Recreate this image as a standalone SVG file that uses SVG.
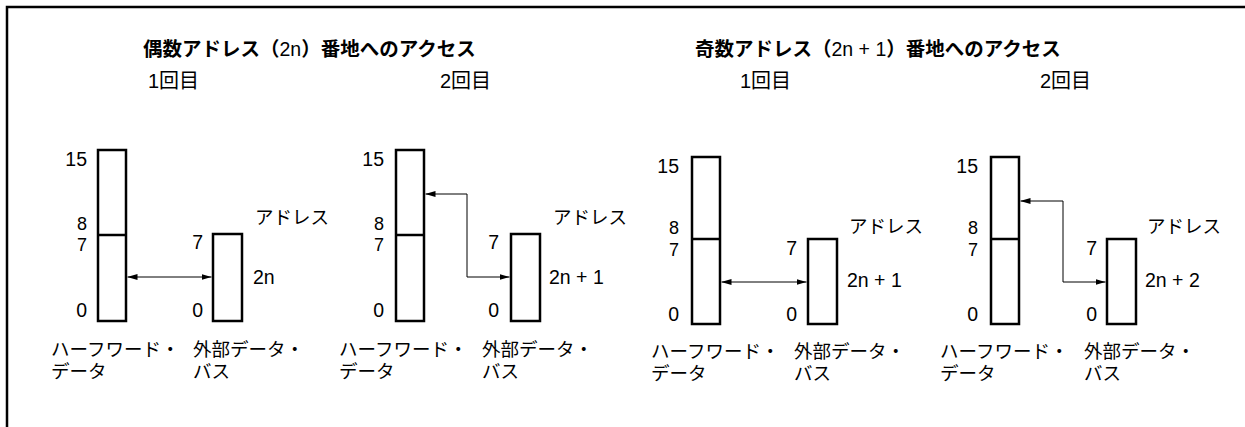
<svg xmlns="http://www.w3.org/2000/svg" width="1245" height="427" viewBox="0 0 1245 427">
<defs>
<style>
text{font-family:"Liberation Sans","Noto Sans CJK JP",sans-serif;fill:#000}
.t{font-size:19.5px;font-weight:bold}
.h{font-size:20px}
.n{font-size:19.5px}
.s{font-size:18px}
.j{font-size:18.5px}
.e{text-anchor:end}
.box{fill:#fff;stroke:#000;stroke-width:2.5}
.div{stroke:#000;stroke-width:2.5}
.c{fill:none;stroke:#000;stroke-width:1}
</style>
<marker id="ah" viewBox="0 0 10 6" refX="10" refY="3" markerWidth="10" markerHeight="6" markerUnits="userSpaceOnUse" orient="auto-start-reverse">
<path d="M0,0 L10,3 L0,6 Z" fill="#000"/>
</marker>
</defs>
<rect width="1245" height="427" fill="#fff"/>
<path d="M7,427 V7 H1245" fill="none" stroke="#000" stroke-width="2.5"/>

<g id="titles">
<text class="t" x="143" y="56">偶数アドレス（<tspan font-weight="normal">2n</tspan>）番地へのアクセス</text>
<text class="t" x="695" y="56">奇数アドレス（<tspan font-weight="normal">2n + 1</tspan>）番地へのアクセス</text>
<text class="h" x="148" y="88">1回目</text>
<text class="h" x="440" y="88">2回目</text>
<text class="h" x="740" y="88">1回目</text>
<text class="h" x="1040" y="88">2回目</text>
</g>

<g id="panel1">
<rect class="box" x="98" y="150" width="28" height="171"/>
<line class="div" x1="98" y1="235" x2="126" y2="235"/>
<rect class="box" x="213" y="234" width="29" height="87"/>
<text class="n e" x="87" y="166">15</text>
<text class="s e" x="87" y="230">8</text>
<text class="s e" x="87" y="251">7</text>
<text class="n e" x="87" y="317">0</text>
<text class="n e" x="203" y="249">7</text>
<text class="n e" x="203" y="317">0</text>
<text class="n" x="253" y="284">2n</text>
<text class="j" x="255" y="224">アドレス</text>
<text class="j" x="51" y="356">ハーフワード・</text>
<text class="j" x="51" y="378">データ</text>
<text class="j" x="193" y="356">外部データ・</text>
<text class="j" x="193" y="378">バス</text>
</g>

<g id="panel2">
<rect class="box" x="396" y="150" width="28" height="171"/>
<line class="div" x1="396" y1="235" x2="424" y2="235"/>
<rect class="box" x="511" y="234" width="29" height="87"/>
<text class="n e" x="384" y="166">15</text>
<text class="s e" x="384" y="230">8</text>
<text class="s e" x="384" y="251">7</text>
<text class="n e" x="384" y="317">0</text>
<text class="n e" x="499" y="249">7</text>
<text class="n e" x="499" y="317">0</text>
<text class="n" x="549" y="284">2n + 1</text>
<text class="j" x="553" y="224">アドレス</text>
<text class="j" x="339" y="356">ハーフワード・</text>
<text class="j" x="339" y="378">データ</text>
<text class="j" x="482" y="356">外部データ・</text>
<text class="j" x="482" y="378">バス</text>
</g>

<g id="panel3">
<rect class="box" x="692" y="157" width="28" height="167"/>
<line class="div" x1="692" y1="239" x2="720" y2="239"/>
<rect class="box" x="808" y="239" width="29" height="85"/>
<text class="n e" x="679" y="173">15</text>
<text class="s e" x="679" y="234">8</text>
<text class="s e" x="679" y="256">7</text>
<text class="n e" x="679" y="321">0</text>
<text class="n e" x="797" y="255">7</text>
<text class="n e" x="797" y="321">0</text>
<text class="n" x="847" y="287">2n + 1</text>
<text class="j" x="849" y="233">アドレス</text>
<text class="j" x="651" y="358">ハーフワード・</text>
<text class="j" x="651" y="380">データ</text>
<text class="j" x="794" y="358">外部データ・</text>
<text class="j" x="794" y="380">バス</text>
</g>

<g id="panel4">
<rect class="box" x="991" y="157" width="28" height="167"/>
<line class="div" x1="991" y1="239" x2="1019" y2="239"/>
<rect class="box" x="1107" y="239" width="29" height="85"/>
<text class="n e" x="978" y="173">15</text>
<text class="s e" x="978" y="234">8</text>
<text class="s e" x="978" y="256">7</text>
<text class="n e" x="978" y="321">0</text>
<text class="n e" x="1097" y="255">7</text>
<text class="n e" x="1097" y="321">0</text>
<text class="n" x="1145" y="287">2n + 2</text>
<text class="j" x="1147" y="233">アドレス</text>
<text class="j" x="940" y="358">ハーフワード・</text>
<text class="j" x="940" y="380">データ</text>
<text class="j" x="1084" y="358">外部データ・</text>
<text class="j" x="1084" y="380">バス</text>
</g>

<g id="connectors">
<path class="c" d="M127.5,277 H211.5" marker-start="url(#ah)" marker-end="url(#ah)"/>
<path class="c" d="M425.5,194 H467 V277 H509.5" marker-start="url(#ah)" marker-end="url(#ah)"/>
<path class="c" d="M721.5,282 H806.5" marker-start="url(#ah)" marker-end="url(#ah)"/>
<path class="c" d="M1020.5,201 H1063 V282 H1105.5" marker-start="url(#ah)" marker-end="url(#ah)"/>
</g>
</svg>
